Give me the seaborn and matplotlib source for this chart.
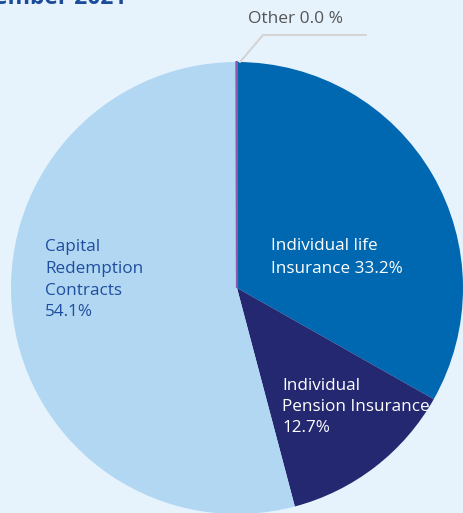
import matplotlib
matplotlib.use('Agg')
import matplotlib.pyplot as plt
import seaborn as sns

# portfolio split, December 2021
segments = ['Individual life Insurance', 'Individual Pension Insurance',
            'Capital Redemption Contracts', 'Other']
shares = [33.2, 12.7, 54.1, 0.04]
labels = ['Individual life\nInsurance 33.2%',
          'Individual\nPension Insurance\n12.7%',
          'Capital\nRedemption\nContracts\n54.1%']
other_label = 'Other 0.0 %'
title = 'December 2021'

colors = ['#0067b1', '#232870', '#b1d7f3', '#8a5aa8']
bg = '#e6f3fd'

sns.set_theme(style='white')
plt.rcParams['font.family'] = ['Open Sans', 'DejaVu Sans']

W, H = 463, 513
fig = plt.figure(figsize=(W / 100, H / 100), dpi=100, facecolor=bg)
ax = fig.add_axes([0, 0, 1, 1])
ax.set_facecolor(bg)

cx, cy, r = 237, H - 288, 226
wedges, _ = ax.pie(shares, colors=colors, startangle=90, counterclock=False,
                   center=(cx, cy), radius=r,
                   wedgeprops=dict(linewidth=0))
wedges[3].set_edgecolor(colors[3])
wedges[3].set_linewidth(1.5)

ax.set_xlim(0, W)
ax.set_ylim(0, H)
ax.set_aspect('auto')
ax.axis('off')

# labels inside the slices
fs = 12.3
ax.text(271, H - 238, labels[0], color='white', fontsize=fs,
        ha='left', va='top', linespacing=1.6)
ax.text(282, H - 378, labels[1], color='white', fontsize=fs,
        ha='left', va='top', linespacing=1.42)
ax.text(45, H - 239, labels[2], color='#1f4e9e', fontsize=fs,
        ha='left', va='top', linespacing=1.48)

# leader for the empty slice
ax.plot([240, 263, 366], [H - 62, H - 35, H - 35], color='#d4d4d4', lw=1.5)
ax.text(248, H - 19, other_label, color='#555555', fontsize=12.5,
        ha='left', va='center')

ax.text(127, H - 4, title, color='#1d4b9b', fontsize=16.5, fontweight='bold',
        ha='right', va='baseline')

fig.savefig('out.png', dpi=100, facecolor=bg)
